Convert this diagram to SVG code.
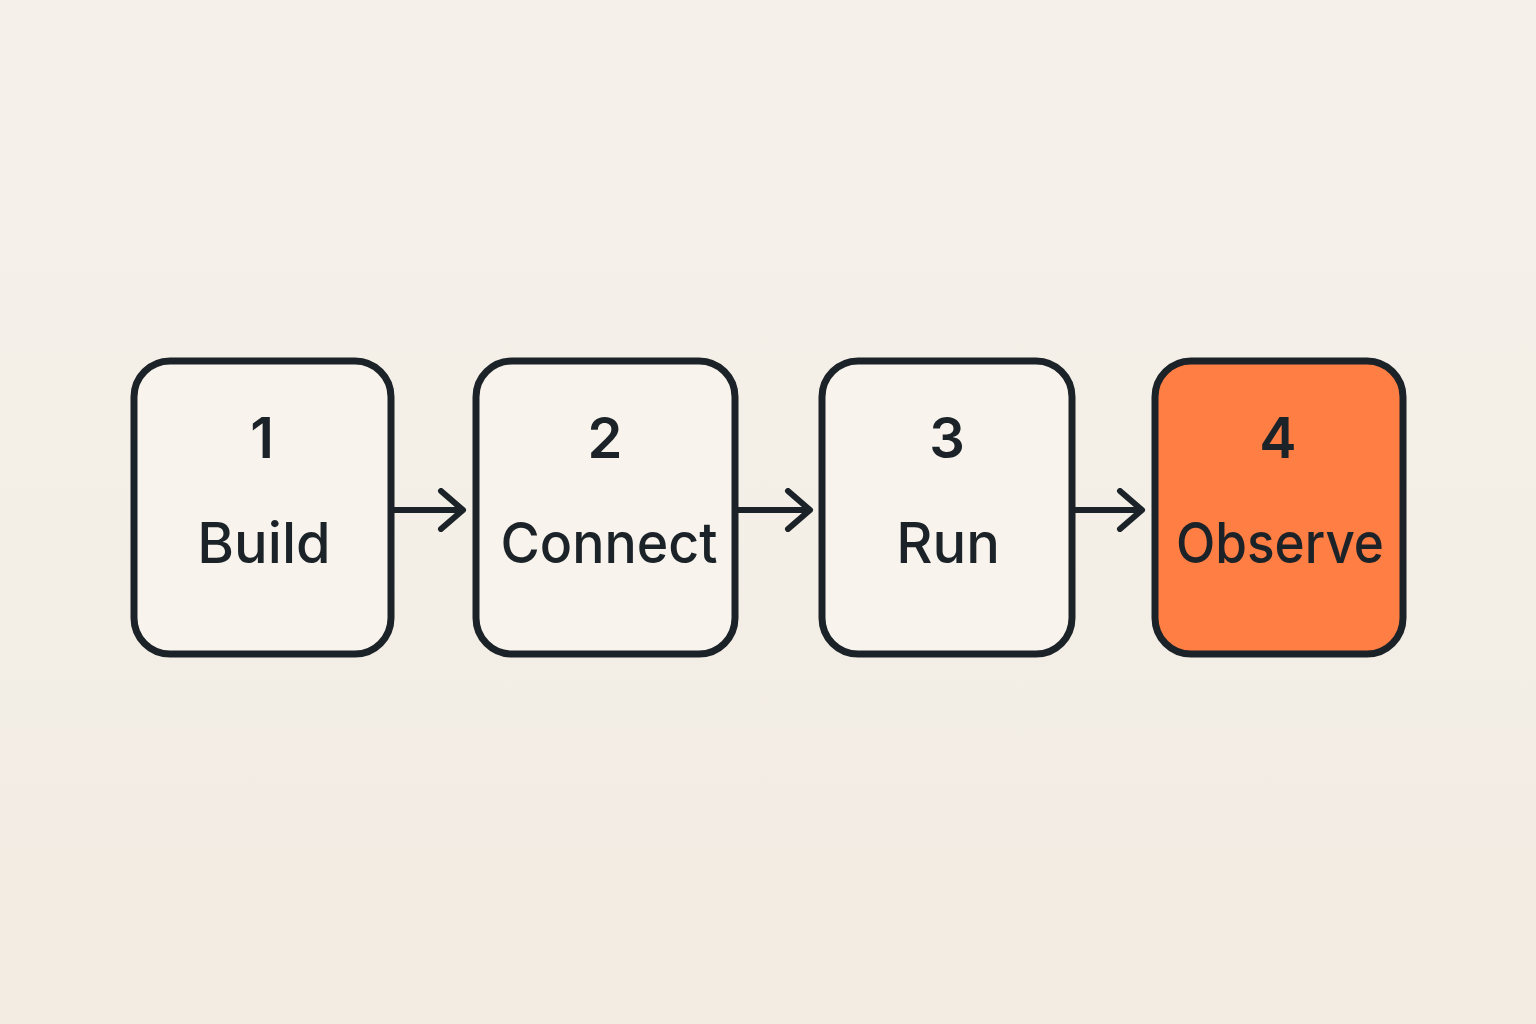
<svg xmlns="http://www.w3.org/2000/svg" width="1536" height="1024" viewBox="0 0 1536 1024">
<defs>
<linearGradient id="bg" x1="0" y1="0" x2="0" y2="1">
<stop offset="0" stop-color="#F5F1EA"/>
<stop offset="1" stop-color="#F2ECE3"/>
</linearGradient>
<marker id="arr" viewBox="0 0 30 44" refX="26" refY="22" markerWidth="30" markerHeight="44" markerUnits="userSpaceOnUse" orient="auto">
<path d="M4 3 L26 22 L4 41" fill="none" stroke="#1C2328" stroke-width="6" stroke-linecap="round" stroke-linejoin="round"/>
</marker>
<style>
.box{fill:#F8F4ED;stroke:#1C2328;stroke-width:7}
.hot{fill:#FF7E44}
.num{font-family:Inter,"Noto Sans",sans-serif;font-size:56px;font-weight:600;fill:#1C2328;text-anchor:middle}
.lbl{font-family:Inter,"Noto Sans",sans-serif;font-size:56px;font-weight:500;fill:#1C2328;text-anchor:middle}
.con{fill:none;stroke:#1C2328;stroke-width:6;marker-end:url(#arr)}
</style>
</defs>
<rect width="1536" height="1024" fill="url(#bg)"/>
<g id="connectors">
<line class="con" x1="394" y1="510" x2="463" y2="510"/>
<line class="con" x1="738" y1="510" x2="810" y2="510"/>
<line class="con" x1="1075" y1="510" x2="1142" y2="510"/>
</g>
<g id="node1">
<rect class="box" x="134" y="361" width="257" height="293" rx="36"/>
<text class="num" x="262" y="458">1</text>
<text class="lbl" x="264" y="563">Build</text>
</g>
<g id="node2">
<rect class="box" x="476" y="361" width="259" height="293" rx="36"/>
<text class="num" x="605" y="458">2</text>
<text class="lbl" x="609" y="563" textLength="217" lengthAdjust="spacingAndGlyphs">Connect</text>
</g>
<g id="node3">
<rect class="box" x="822" y="361" width="250" height="293" rx="36"/>
<text class="num" x="947" y="458">3</text>
<text class="lbl" x="948" y="563">Run</text>
</g>
<g id="node4">
<rect class="box hot" x="1155" y="361" width="248" height="293" rx="36"/>
<text class="num" x="1278" y="458">4</text>
<text class="lbl" x="1280" y="563" textLength="208" lengthAdjust="spacingAndGlyphs">Observe</text>
</g>
</svg>
